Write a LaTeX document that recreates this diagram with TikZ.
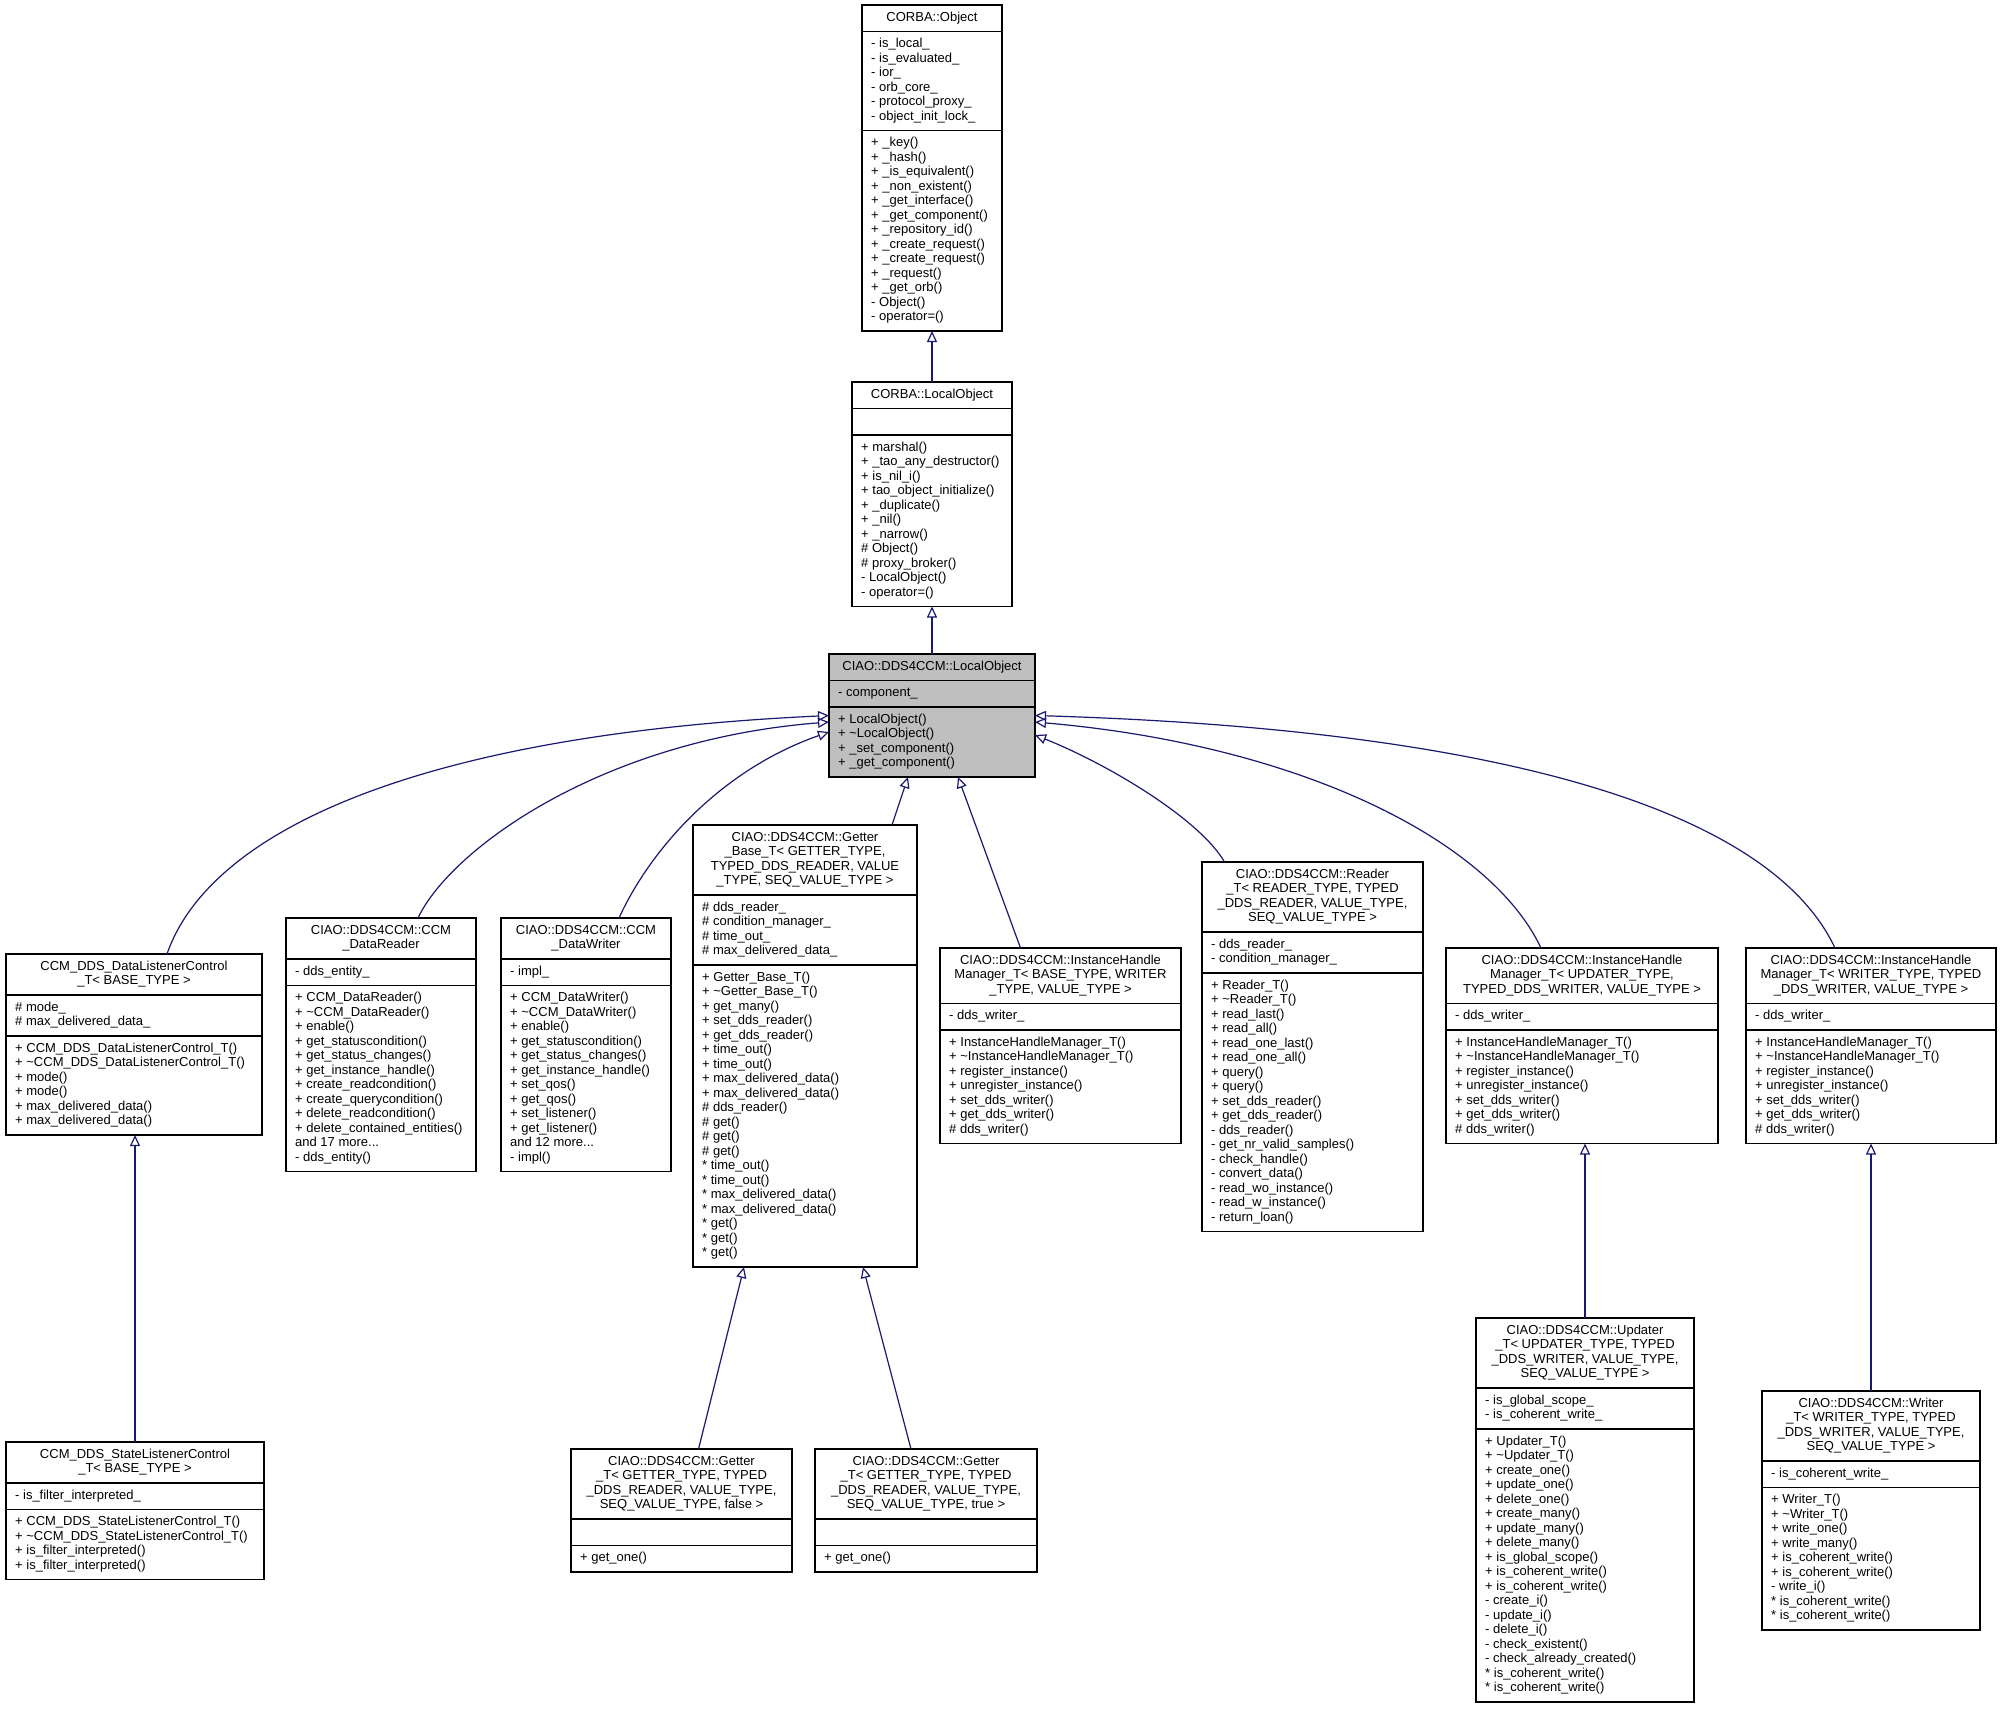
\documentclass[tikz,border=0pt]{standalone}
\usepackage{fontspec}
\setmainfont{Liberation Sans}
\usetikzlibrary{arrows.meta}

\definecolor{edgeblue}{HTML}{191970}
\definecolor{nodegray}{HTML}{BFBFBF}

\newcommand\umlfont{\fontsize{13}{14.5}\selectfont}
\newcommand\umlline{14.5}
\newcommand\umlpad{12}

\tikzset{
  boxline/.style={line width=1.3pt},
  classbox/.style={boxline, draw, fill=white, anchor=north west, inner sep=0pt, outer sep=0pt},
  classtitle/.style={anchor=north, align=center, inner sep=0pt, font=\umlfont},
  classbody/.style={anchor=north west, align=left, inner sep=0pt, font=\umlfont},
  inherit/.style={draw=edgeblue, line width=1.2pt, -{Triangle[open, length=11pt, width=10pt]}},
}

% box with three compartments: [options]{name}{x}{y}{width}{title lines}{attribute lines}{method lines}
\newcommand\umlclass[8][]{%
  \node[classbox, #1, minimum width=#5, minimum height={\umlline*(#6+#7+#8)+3*\umlpad}] (#2) at (#3, #4) {};
  \draw[boxline] ([yshift={-\umlline*#6-\umlpad}]#2.north west) coordinate (#2-a)
    -- ([yshift={-\umlline*#6-\umlpad}]#2.north east);
  \draw[boxline] ([yshift={-\umlline*(#6+#7)-2*\umlpad}]#2.north west) coordinate (#2-m)
    -- ([yshift={-\umlline*(#6+#7)-2*\umlpad}]#2.north east);
}
% texts of a box: {name}{title}{attributes}{methods}
\newcommand\umltext[4]{%
  \node[classtitle] (#1-title) at ([yshift=-6]#1.north) {\strut#2};
  \node[classbody] (#1-attr) at ([shift={(9pt,-6pt)}]#1-a) {\strut#3};
  \node[classbody] (#1-meth) at ([shift={(9pt,-6pt)}]#1-m) {\strut#4};
}
\newcommand\ihmattr{- dds\_writer\_}
\newcommand\ihmmethods{+ InstanceHandleManager\_T()\\+ \textasciitilde InstanceHandleManager\_T()\\+ register\_instance()\\+ unregister\_instance()\\+ set\_dds\_writer()\\+ get\_dds\_writer()\\\# dds\_writer()}

\begin{document}
\begin{tikzpicture}[x=1pt, y=-1pt]
  \path[use as bounding box, fill=white] (0,0) rectangle (2000,1709);

  \umlclass{obj}{862}{5}{140}{1}{6}{13}
  \umltext{obj}{CORBA::Object}
    {- is\_local\_\\- is\_evaluated\_\\- ior\_\\- orb\_core\_\\- protocol\_proxy\_\\- object\_init\_lock\_}
    {+ \_key()\\+ \_hash()\\+ \_is\_equivalent()\\+ \_non\_existent()\\+ \_get\_interface()\\+ \_get\_component()\\+ \_repository\_id()\\+ \_create\_request()\\+ \_create\_request()\\+ \_request()\\+ \_get\_orb()\\- Object()\\- operator=()}

  \umlclass{corbalocal}{852}{382}{160}{1}{1}{11}
  \umltext{corbalocal}{CORBA::LocalObject}{}
    {+ marshal()\\+ \_tao\_any\_destructor()\\+ is\_nil\_i()\\+ tao\_object\_initialize()\\+ \_duplicate()\\+ \_nil()\\+ \_narrow()\\\# Object()\\\# proxy\_broker()\\- LocalObject()\\- operator=()}

  \umlclass[fill=nodegray]{ciaolocal}{829}{654}{206}{1}{1}{4}
  \umltext{ciaolocal}{CIAO::DDS4CCM::LocalObject}{- component\_}
    {+ LocalObject()\\+ \textasciitilde LocalObject()\\+ \_set\_component()\\+ \_get\_component()}

  \umlclass{dlc}{6}{954}{256}{2}{2}{6}
  \umltext{dlc}{CCM\_DDS\_DataListenerControl\\\_T< BASE\_TYPE >}
    {\# mode\_\\\# max\_delivered\_data\_}
    {+ CCM\_DDS\_DataListenerControl\_T()\\+ \textasciitilde CCM\_DDS\_DataListenerControl\_T()\\+ mode()\\+ mode()\\+ max\_delivered\_data()\\+ max\_delivered\_data()}

  \umlclass{cdr}{286}{918}{190}{2}{1}{12}
  \umltext{cdr}{CIAO::DDS4CCM::CCM\\\_DataReader}{- dds\_entity\_}
    {+ CCM\_DataReader()\\+ \textasciitilde CCM\_DataReader()\\+ enable()\\+ get\_statuscondition()\\+ get\_status\_changes()\\+ get\_instance\_handle()\\+ create\_readcondition()\\+ create\_querycondition()\\+ delete\_readcondition()\\+ delete\_contained\_entities()\\and 17 more...\\- dds\_entity()}

  \umlclass{cdw}{501}{918}{170}{2}{1}{12}
  \umltext{cdw}{CIAO::DDS4CCM::CCM\\\_DataWriter}{- impl\_}
    {+ CCM\_DataWriter()\\+ \textasciitilde CCM\_DataWriter()\\+ enable()\\+ get\_statuscondition()\\+ get\_status\_changes()\\+ get\_instance\_handle()\\+ set\_qos()\\+ get\_qos()\\+ set\_listener()\\+ get\_listener()\\and 12 more...\\- impl()}

  \umlclass{gbase}{693}{825}{224}{4}{4}{20}
  \umltext{gbase}{CIAO::DDS4CCM::Getter\\\_Base\_T< GETTER\_TYPE,\\TYPED\_DDS\_READER, VALUE\\\_TYPE, SEQ\_VALUE\_TYPE >}
    {\# dds\_reader\_\\\# condition\_manager\_\\\# time\_out\_\\\# max\_delivered\_data\_}
    {+ Getter\_Base\_T()\\+ \textasciitilde Getter\_Base\_T()\\+ get\_many()\\+ set\_dds\_reader()\\+ get\_dds\_reader()\\+ time\_out()\\+ time\_out()\\+ max\_delivered\_data()\\+ max\_delivered\_data()\\\# dds\_reader()\\\# get()\\\# get()\\\# get()\\{}* time\_out()\\{}* time\_out()\\{}* max\_delivered\_data()\\{}* max\_delivered\_data()\\{}* get()\\{}* get()\\{}* get()}

  \umlclass{ihmb}{940}{948}{241}{3}{1}{7}
  \umltext{ihmb}{CIAO::DDS4CCM::InstanceHandle\\Manager\_T< BASE\_TYPE, WRITER\\\_TYPE, VALUE\_TYPE >}{\ihmattr}{\ihmmethods}

  \umlclass{reader}{1202}{862}{221}{4}{2}{17}
  \umltext{reader}{CIAO::DDS4CCM::Reader\\\_T< READER\_TYPE, TYPED\\\_DDS\_READER, VALUE\_TYPE,\\SEQ\_VALUE\_TYPE >}
    {- dds\_reader\_\\- condition\_manager\_}
    {+ Reader\_T()\\+ \textasciitilde Reader\_T()\\+ read\_last()\\+ read\_all()\\+ read\_one\_last()\\+ read\_one\_all()\\+ query()\\+ query()\\+ set\_dds\_reader()\\+ get\_dds\_reader()\\- dds\_reader()\\- get\_nr\_valid\_samples()\\- check\_handle()\\- convert\_data()\\- read\_wo\_instance()\\- read\_w\_instance()\\- return\_loan()}

  \umlclass{ihmu}{1446}{948}{272}{3}{1}{7}
  \umltext{ihmu}{CIAO::DDS4CCM::InstanceHandle\\Manager\_T< UPDATER\_TYPE,\\TYPED\_DDS\_WRITER, VALUE\_TYPE >}{\ihmattr}{\ihmmethods}

  \umlclass{ihmw}{1746}{948}{250}{3}{1}{7}
  \umltext{ihmw}{CIAO::DDS4CCM::InstanceHandle\\Manager\_T< WRITER\_TYPE, TYPED\\\_DDS\_WRITER, VALUE\_TYPE >}{\ihmattr}{\ihmmethods}

  \umlclass{slc}{6}{1442}{258}{2}{1}{4}
  \umltext{slc}{CCM\_DDS\_StateListenerControl\\\_T< BASE\_TYPE >}{- is\_filter\_interpreted\_}
    {+ CCM\_DDS\_StateListenerControl\_T()\\+ \textasciitilde CCM\_DDS\_StateListenerControl\_T()\\+ is\_filter\_interpreted()\\+ is\_filter\_interpreted()}

  \umlclass{getf}{571}{1449}{221}{4}{1}{1}
  \umltext{getf}{CIAO::DDS4CCM::Getter\\\_T< GETTER\_TYPE, TYPED\\\_DDS\_READER, VALUE\_TYPE,\\SEQ\_VALUE\_TYPE, false >}{}{+ get\_one()}

  \umlclass{gett}{815}{1449}{222}{4}{1}{1}
  \umltext{gett}{CIAO::DDS4CCM::Getter\\\_T< GETTER\_TYPE, TYPED\\\_DDS\_READER, VALUE\_TYPE,\\SEQ\_VALUE\_TYPE, true >}{}{+ get\_one()}

  \umlclass{updater}{1476}{1318}{218}{4}{2}{18}
  \umltext{updater}{CIAO::DDS4CCM::Updater\\\_T< UPDATER\_TYPE, TYPED\\\_DDS\_WRITER, VALUE\_TYPE,\\SEQ\_VALUE\_TYPE >}
    {- is\_global\_scope\_\\- is\_coherent\_write\_}
    {+ Updater\_T()\\+ \textasciitilde Updater\_T()\\+ create\_one()\\+ update\_one()\\+ delete\_one()\\+ create\_many()\\+ update\_many()\\+ delete\_many()\\+ is\_global\_scope()\\+ is\_coherent\_write()\\+ is\_coherent\_write()\\- create\_i()\\- update\_i()\\- delete\_i()\\- check\_existent()\\- check\_already\_created()\\{}* is\_coherent\_write()\\{}* is\_coherent\_write()}

  \umlclass{writer}{1762}{1391}{218}{4}{1}{9}
  \umltext{writer}{CIAO::DDS4CCM::Writer\\\_T< WRITER\_TYPE, TYPED\\\_DDS\_WRITER, VALUE\_TYPE,\\SEQ\_VALUE\_TYPE >}
    {- is\_coherent\_write\_}
    {+ Writer\_T()\\+ \textasciitilde Writer\_T()\\+ write\_one()\\+ write\_many()\\+ is\_coherent\_write()\\+ is\_coherent\_write()\\- write\_i()\\{}* is\_coherent\_write()\\{}* is\_coherent\_write()}

  % inheritance
  \draw[inherit] (corbalocal) -- (obj);
  \draw[inherit] (ciaolocal) -- (corbalocal);
  \draw[inherit] ([xshift=33]dlc.north) .. controls +(43,-124) and +(-409,19) .. (ciaolocal.west);
  \draw[inherit] ([xshift=37]cdr.north) .. controls +(32,-68) and +(-229,18) .. ([yshift=-6.5]ciaolocal.west);
  \draw[inherit] ([xshift=33]cdw.north) .. controls +(31,-68) and +(-109,38) .. ([yshift=-16.5]ciaolocal.west);
  \draw[inherit] ([xshift=87]gbase.north) -- ([xshift=-24]ciaolocal.south);
  \draw[inherit] ([xshift=-40]ihmb.north) -- ([xshift=26]ciaolocal.south);
  \draw[inherit] ([xshift=-88]reader.north) .. controls +(-24,-42) and +(75,30) .. ([yshift=-19.5]ciaolocal.east);
  \draw[inherit] ([xshift=-41]ihmu.north) .. controls +(-51,-108) and +(265,23) .. ([yshift=-6.5]ciaolocal.east);
  \draw[inherit] ([xshift=-36]ihmw.north) .. controls +(-65,-138) and +(465,14) .. (ciaolocal.east);
  \draw[inherit] (slc.north) -- (slc.north |- dlc.south);
  \draw[inherit] ([xshift=17]getf.north) -- ([xshift=-61]gbase.south);
  \draw[inherit] ([xshift=-15]gett.north) -- ([xshift=58]gbase.south);
  \draw[inherit] (updater.north) -- (updater.north |- ihmu.south);
  \draw[inherit] (writer.north) -- (writer.north |- ihmw.south);
\end{tikzpicture}
\end{document}
